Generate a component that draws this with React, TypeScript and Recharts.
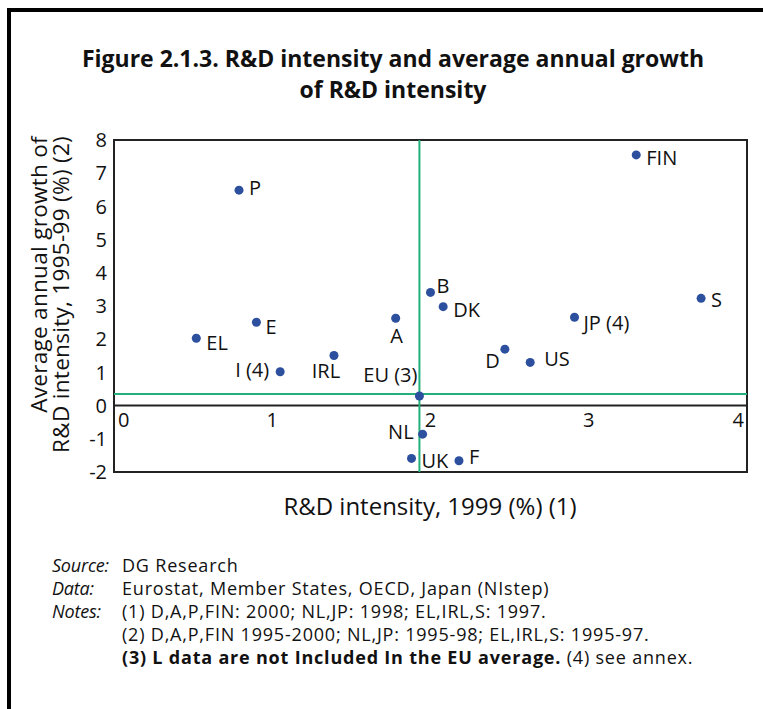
import React from 'react';
import { ScatterChart, Scatter, XAxis, YAxis, ReferenceLine, ReferenceArea, ReferenceDot } from 'recharts';

// R&D intensity 1999 (%) and average annual growth 1995-99 (%)
const countries = ['P', 'E', 'EL', 'I (4)', 'IRL', 'A', 'EU (3)', 'B', 'DK', 'FIN', 'S', 'JP (4)', 'D', 'US', 'NL', 'UK', 'F'];
const intensity = [0.79, 0.9, 0.52, 1.05, 1.39, 1.78, 1.93, 2.0, 2.08, 3.3, 3.71, 2.91, 2.47, 2.63, 1.95, 1.88, 2.18];
const growth = [6.49, 2.51, 2.03, 1.02, 1.51, 2.63, 0.29, 3.41, 2.98, 7.55, 3.23, 2.66, 1.7, 1.3, -0.86, -1.59, -1.66];

const xTicks = [0, 1, 2, 3, 4];
const yTicks = [-2, -1, 0, 1, 2, 3, 4, 5, 6, 7, 8];

// EU average cross-hair
const euLineX = 1.93;
const euLineY = 0.35;

const points = countries.map((name, i) => ({ name, x: intensity[i], y: growth[i] }));

// where each label sits relative to its dot: dx, dy, anchor
const labelPos: Record<string, [number, number, string]> = {
  P: [10, -3, 'start'],
  E: [9, 4, 'start'],
  EL: [10, 4, 'start'],
  'I (4)': [-11, -2, 'end'],
  IRL: [-8, 15, 'middle'],
  A: [1, 17, 'middle'],
  'EU (3)': [-2, -21, 'end'],
  B: [6, -7, 'start'],
  DK: [10, 3, 'start'],
  FIN: [10, 3, 'start'],
  S: [10, 1, 'start'],
  'JP (4)': [9, 5, 'start'],
  D: [-5, 11, 'end'],
  US: [14, -4, 'start'],
  NL: [-9, -3, 'end'],
  UK: [10, 2, 'start'],
  F: [10, -4, 'start'],
};

const FONT = '"Open Sans", sans-serif';
const DOT = '#2c4f9e';
const GREEN = '#22b07a';

const CountryDot = (props: any) => {
  const { cx, cy, payload } = props;
  const [dx, dy, anchor] = labelPos[payload.name] || [8, 0, 'start'];
  return (
    <g>
      <circle cx={cx} cy={cy} r={4.5} fill={DOT} />
      <text x={cx + dx} y={cy + dy} textAnchor={anchor} dominantBaseline="central" fontSize={20} fontFamily={FONT} fill="#111">
        {payload.name}
      </text>
    </g>
  );
};

const noteHead = { fontStyle: 'italic', display: 'inline-block', width: 70, letterSpacing: -0.2 };

const App = () => {
  return (
    <div style={{ position: 'absolute', left: 0, top: 0, width: 763, height: 709, overflow: 'hidden', background: '#fff', fontFamily: FONT, color: '#111' }}>
      <div style={{ position: 'absolute', left: 7, top: 8, width: 756, height: 701, borderLeft: '4px solid #000', borderTop: '4px solid #000', boxSizing: 'border-box' }} />
      <div style={{ position: 'absolute', left: 0, width: 786, top: 43, textAlign: 'center', fontWeight: 700, fontSize: 23, lineHeight: '31px', whiteSpace: 'nowrap' }}>
        Figure 2.1.3. R&amp;D intensity and average annual growth
        <br />
        of R&amp;D intensity
      </div>
      <div style={{ position: 'absolute', left: 0, top: 0 }}>
        <ScatterChart width={763} height={709} margin={{ top: 140, right: 16, bottom: 237, left: 54 }}>
          <XAxis type="number" dataKey="x" domain={[0, 4]} ticks={xTicks} hide />
          <YAxis
            type="number"
            dataKey="y"
            domain={[-2, 8]}
            ticks={yTicks}
            interval={0}
            width={60}
            axisLine={false}
            tickLine={false}
            tickSize={0}
            tickMargin={7}
            tick={{ fill: '#111', fontSize: 20, fontFamily: FONT }}
          />
          <ReferenceArea x1={0} x2={4} y1={-2} y2={8} fill="none" stroke="#222" strokeWidth={2} ifOverflow="visible" />
          <ReferenceLine y={0} stroke="#222" strokeWidth={2} />
          <ReferenceLine x={euLineX} stroke={GREEN} strokeWidth={2} />
          <ReferenceLine y={euLineY} stroke={GREEN} strokeWidth={2} />
          {xTicks.map((t, i) => (
            <ReferenceDot
              key={t}
              x={t}
              y={0}
              r={0}
              shape={(p: any) => (
                <text
                  x={p.cx + (i === 0 ? 4 : i === xTicks.length - 1 ? -3 : 0)}
                  y={p.cy + 14}
                  textAnchor={i === 0 ? 'start' : i === xTicks.length - 1 ? 'end' : 'middle'}
                  dominantBaseline="central"
                  fontSize={20}
                  fontFamily={FONT}
                  fill="#111"
                >
                  {t}
                </text>
              )}
            />
          ))}
          <Scatter data={points} shape={CountryDot} isAnimationActive={false} />
          <text transform="translate(47 136) rotate(-90)" textAnchor="end" fontSize={22.5} letterSpacing={0.3} fontFamily={FONT} fill="#111">
            Average annual growth of
          </text>
          <text transform="translate(69 136) rotate(-90)" textAnchor="end" fontSize={22.5} letterSpacing={0.3} fontFamily={FONT} fill="#111">
            R&amp;D intensity, 1995-99 (%) (2)
          </text>
          <text x={430} y={515} textAnchor="middle" fontSize={24} fontFamily={FONT} fill="#111">
            R&amp;D intensity, 1999 (%) (1)
          </text>
        </ScatterChart>
      </div>
      <div style={{ position: 'absolute', left: 52, top: 554, fontSize: 18, letterSpacing: 0.8, lineHeight: '23px', whiteSpace: 'nowrap' }}>
        <div><span style={noteHead}>Source:</span>DG Research</div>
        <div><span style={noteHead}>Data:</span>Eurostat, Member States, OECD, Japan (NIstep)</div>
        <div><span style={noteHead}>Notes:</span>(1) D,A,P,FIN: 2000; NL,JP: 1998; EL,IRL,S: 1997.</div>
        <div><span style={noteHead} />(2) D,A,P,FIN 1995-2000; NL,JP: 1995-98; EL,IRL,S: 1995-97.</div>
        <div><span style={noteHead} /><b>(3) L data are not Included In the EU average.</b> (4) see annex.</div>
      </div>
    </div>
  );
};

export default App;
